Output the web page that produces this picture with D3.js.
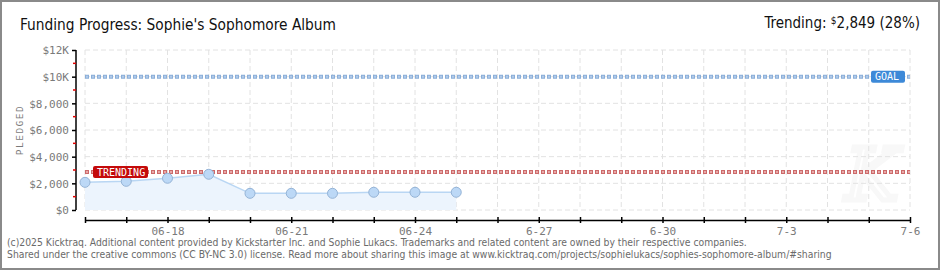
<!DOCTYPE html>
<html>
<head>
<meta charset="utf-8">
<script src="https://cdn.jsdelivr.net/npm/d3@7"></script>
<style>
  body { margin: 0; background: #fff; }
  svg { display: block; }
  .tick-label { font-family: "DejaVu Sans Mono", monospace; font-size: 11px; fill: #7a7a7a; }
</style>
</head>
<body>
<script>
// chart values
var days = ["06-16", "06-17", "06-18", "06-19", "06-20", "06-21", "06-22", "06-23", "06-24", "06-25"];
var pledged = [2075, 2150, 2380, 2680, 1250, 1250, 1250, 1330, 1330, 1330];
var xTickLabels = ["06-16", "06-17", "06-18", "06-19", "06-20", "06-21", "06-22", "06-23", "06-24", "06-25",
                   "6-26", "6-27", "6-28", "6-29", "6-30", "7-1", "7-2", "7-3", "7-4", "7-5", "7-6"];
var shownXLabels = ["06-18", "06-21", "06-24", "6-27", "6-30", "7-3", "7-6"];
var yTicks = [0, 2000, 4000, 6000, 8000, 10000, 12000];
var yMinorTicks = [1000, 3000, 5000, 7000, 9000, 11000];
var goal = 10000;
var trending = 2849;
var trendingPct = 28;

var width = 940;
var height = 270;

var svg = d3.select("body").append("svg")
    .attr("width", width)
    .attr("height", height);

// frame
svg.append("rect")
   .attr("x", 1).attr("y", 1)
   .attr("width", width - 2).attr("height", height - 2)
   .attr("fill", "#fff")
   .attr("stroke", "#8a8a8a")
   .attr("stroke-width", 2);

var x = d3.scalePoint().domain(xTickLabels).range([85, 910]);
var y = d3.scaleLinear().domain([0, 12000]).range([210, 50]);

// watermark K (very faint)
svg.append("text")
   .attr("x", 872).attr("y", 200)
   .attr("text-anchor", "middle")
   .attr("font-family", "DejaVu Serif")
   .attr("font-style", "italic")
   .attr("font-size", 72)
   .attr("fill", "none")
   .attr("stroke", "#f8f8f8")
   .attr("stroke-width", 5)
   .text("K");

// grid
var grid = svg.append("g");
grid.selectAll("line.v")
    .data(xTickLabels)
    .enter().append("line")
    .attr("x1", function(d) { return x(d); })
    .attr("x2", function(d) { return x(d); })
    .attr("y1", y(12000)).attr("y2", y(0))
    .attr("stroke", "#e2e2e2")
    .attr("stroke-dasharray", "5,3");
grid.selectAll("line.h")
    .data(yTicks)
    .enter().append("line")
    .attr("x1", x.range()[0]).attr("x2", x.range()[1])
    .attr("y1", function(d) { return y(d); })
    .attr("y2", function(d) { return y(d); })
    .attr("stroke", "#e2e2e2")
    .attr("stroke-dasharray", "5,3");

// area + line
var pts = days.map(function(d, i) { return [x(d), y(pledged[i])]; });
svg.append("path")
   .datum(pts)
   .attr("d", d3.area().x(function(d) { return d[0]; }).y0(y(0)).y1(function(d) { return d[1]; }))
   .attr("fill", "#ecf4fd");
svg.append("path")
   .datum(pts)
   .attr("d", d3.line())
   .attr("fill", "none")
   .attr("stroke", "#b9d6f3")
   .attr("stroke-width", 1.5);

// goal and trending lines
function refLine(v, fill, edge) {
  svg.append("line")
     .attr("x1", x.range()[0]).attr("x2", x.range()[1])
     .attr("y1", y(v)).attr("y2", y(v))
     .attr("stroke", edge)
     .attr("stroke-width", 4)
     .attr("stroke-dasharray", "4,2");
  svg.append("line")
     .attr("x1", x.range()[0]).attr("x2", x.range()[1])
     .attr("y1", y(v)).attr("y2", y(v))
     .attr("stroke", fill)
     .attr("stroke-width", 2)
     .attr("stroke-dasharray", "2,4")
     .attr("stroke-dashoffset", -1);
}
refLine(goal, "#b3cceb", "#8aaed8");
refLine(trending, "#e8a8a8", "#cc6a6a");

// points
svg.selectAll("circle")
   .data(pts)
   .enter().append("circle")
   .attr("cx", function(d) { return d[0]; })
   .attr("cy", function(d) { return d[1]; })
   .attr("r", 5)
   .attr("fill", "#bcd8f6")
   .attr("stroke", "#94b3d6")
   .attr("stroke-width", 1);

// labels on ref lines
function badge(xLeft, v, w, fill, label) {
  var g = svg.append("g").attr("transform", "translate(" + xLeft + "," + (y(v) - 6) + ")");
  g.append("rect").attr("width", w).attr("height", 12).attr("rx", 2).attr("fill", fill);
  g.append("text")
   .attr("x", 4).attr("y", 9.5)
   .attr("font-family", "DejaVu Sans Mono")
   .attr("font-size", 10)
   .attr("fill", "#fff")
   .text(label);
}
badge(93, trending, 55, "#c40a0a", "TRENDING");
badge(871, goal, 34, "#3d89d8", "GOAL");

// y axis
var yAxisG = svg.append("g").attr("transform", "translate(76,0)");
yAxisG.call(d3.axisLeft(y).tickValues(yTicks).tickSize(4).tickFormat(function(d) {
  if (d >= 10000) return "$" + (d / 1000) + "K";
  return "$" + d3.format(",")(d);
}));
yAxisG.select(".domain").attr("stroke", "#000").attr("stroke-width", 1.5).attr("d", "M0," + y(12000) + "V" + y(0));
yAxisG.selectAll(".tick line").attr("stroke", "#000").attr("stroke-width", 1.5);
yAxisG.selectAll(".tick text").attr("class", "tick-label").attr("x", -7).attr("dy", "0.35em");
yAxisG.selectAll("line.minor")
      .data(yMinorTicks)
      .enter().append("line")
      .attr("x1", -3).attr("x2", 0)
      .attr("y1", function(d) { return y(d); })
      .attr("y2", function(d) { return y(d); })
      .attr("stroke", "#e00000")
      .attr("stroke-width", 1.5);

// x axis
var xAxisG = svg.append("g").attr("transform", "translate(0,220)");
xAxisG.call(d3.axisBottom(x).tickSize(3).tickSizeOuter(0).tickFormat(function(d) {
  return shownXLabels.indexOf(d) >= 0 ? d : "";
}));
xAxisG.select(".domain").attr("stroke", "#000").attr("stroke-width", 1.5);
xAxisG.selectAll(".tick line").attr("stroke", "#000").attr("stroke-width", 1.5).attr("y1", -3).attr("y2", 3);
xAxisG.selectAll(".tick text").attr("class", "tick-label").attr("y", 7).attr("dy", "0.71em");

// axis title
svg.append("text")
   .attr("transform", "translate(23,130) rotate(-90)")
   .attr("text-anchor", "middle")
   .attr("font-family", "DejaVu Sans Mono")
   .attr("font-size", 9.5)
   .attr("letter-spacing", 1.5)
   .attr("fill", "#7a7a7a")
   .text("PLEDGED");

// title
svg.append("text")
   .attr("x", 20).attr("y", 30)
   .attr("font-family", "DejaVu Sans Condensed")
   .attr("font-size", 15.5)
   .attr("textLength", 316)
   .attr("lengthAdjust", "spacingAndGlyphs")
   .attr("fill", "#111")
   .text("Funding Progress: Sophie's Sophomore Album");

var tr = svg.append("text")
   .attr("x", 920).attr("y", 28)
   .attr("text-anchor", "end")
   .attr("font-family", "DejaVu Sans Condensed")
   .attr("font-size", 15)
   .attr("fill", "#111");
tr.append("tspan").text("Trending:  ");
tr.append("tspan").attr("font-size", 10).attr("dy", -4).text("$");
tr.append("tspan").attr("dy", 4).text(d3.format(",")(trending) + " (" + trendingPct + "%)");

// footer
var footer = [
  "(c)2025 Kicktraq. Additional content provided by Kickstarter Inc. and Sophie Lukacs. Trademarks and related content are owned by their respective companies.",
  "Shared under the creative commons (CC BY-NC 3.0) license. Read more about sharing this image at www.kicktraq.com/projects/sophielukacs/sophies-sophomore-album/#sharing"
];
svg.selectAll("text.footer")
   .data(footer)
   .enter().append("text")
   .attr("class", "footer")
   .attr("x", 7)
   .attr("y", function(d, i) { return 246 + i * 12; })
   .attr("font-family", "DejaVu Sans Condensed")
   .attr("font-size", 10.3)
   .attr("fill", "#6a6a6a")
   .text(function(d) { return d; });
</script>
</body>
</html>
